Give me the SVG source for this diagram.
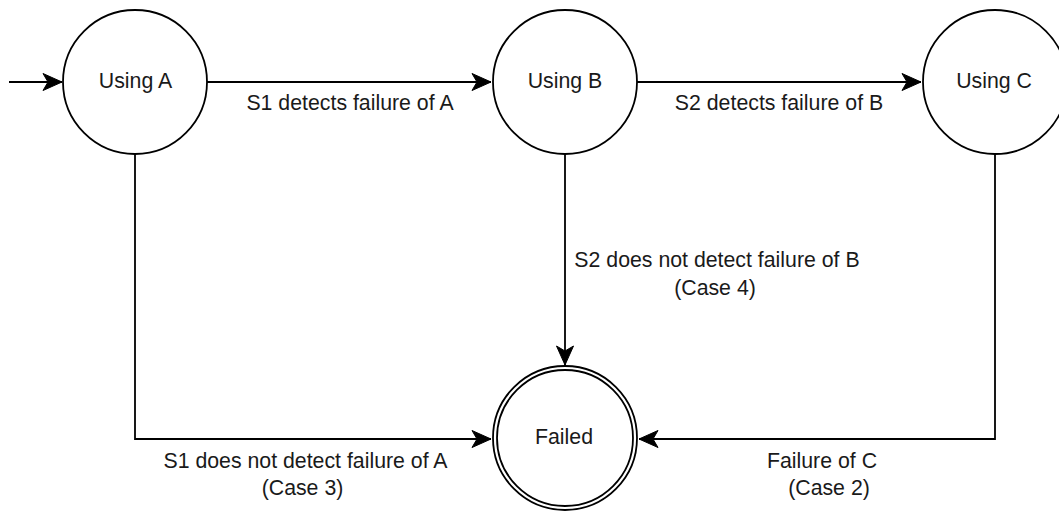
<svg xmlns="http://www.w3.org/2000/svg" width="1059" height="513" viewBox="0 0 1059 513">
<defs>
<style>
.node{fill:#fff;stroke:#000;stroke-width:1.8}
.edge{fill:none;stroke:#000;stroke-width:1.8}
text{font-family:"Liberation Sans",Arial,Helvetica,sans-serif;font-size:21.3px;fill:#1a1a1a;text-anchor:middle}
</style>
<marker id="arr" markerUnits="userSpaceOnUse" viewBox="-20 -10 21 20" refX="0" refY="0" markerWidth="21" markerHeight="20" orient="auto">
<path d="M0,0 L-19,-8.5 L-14,0 L-19,8.5 Z" fill="#000" stroke="#000" stroke-width="1"/>
</marker>
</defs>
<rect width="1059" height="513" fill="#fff"/>
<g id="connectors">
<line class="edge" x1="9" y1="82" x2="62" y2="82" marker-end="url(#arr)"/>
<line class="edge" x1="207" y1="82" x2="491" y2="82" marker-end="url(#arr)"/>
<line class="edge" x1="637" y1="82" x2="921" y2="82" marker-end="url(#arr)"/>
<line class="edge" x1="565" y1="154" x2="565" y2="365" marker-end="url(#arr)"/>
<path class="edge" d="M135,154 V439 H491" marker-end="url(#arr)"/>
<path class="edge" d="M995,154 V439 H639" marker-end="url(#arr)"/>
<text x="350" y="110">S1 detects failure of A</text>
<text x="779" y="110">S2 detects failure of B</text>
<text x="717" y="267">S2 does not detect failure of B</text>
<text x="715" y="295">(Case 4)</text>
<text x="305.5" y="468">S1 does not detect failure of A</text>
<text x="302.5" y="495">(Case 3)</text>
<text x="822" y="468">Failure of C</text>
<text x="829" y="495">(Case 2)</text>
</g>
<g id="nodeA">
<circle class="node" cx="135" cy="82" r="72"/>
<text x="135.5" y="88">Using A</text>
</g>
<g id="nodeB">
<circle class="node" cx="565" cy="82" r="72"/>
<text x="565" y="88">Using B</text>
</g>
<g id="nodeC">
<circle class="node" cx="995" cy="82" r="72"/>
<text x="994" y="88">Using C</text>
</g>
<g id="nodeFailed">
<circle class="node" cx="565" cy="438" r="72"/>
<circle class="node" cx="565" cy="438" r="68"/>
<text x="564" y="444">Failed</text>
</g>
</svg>
